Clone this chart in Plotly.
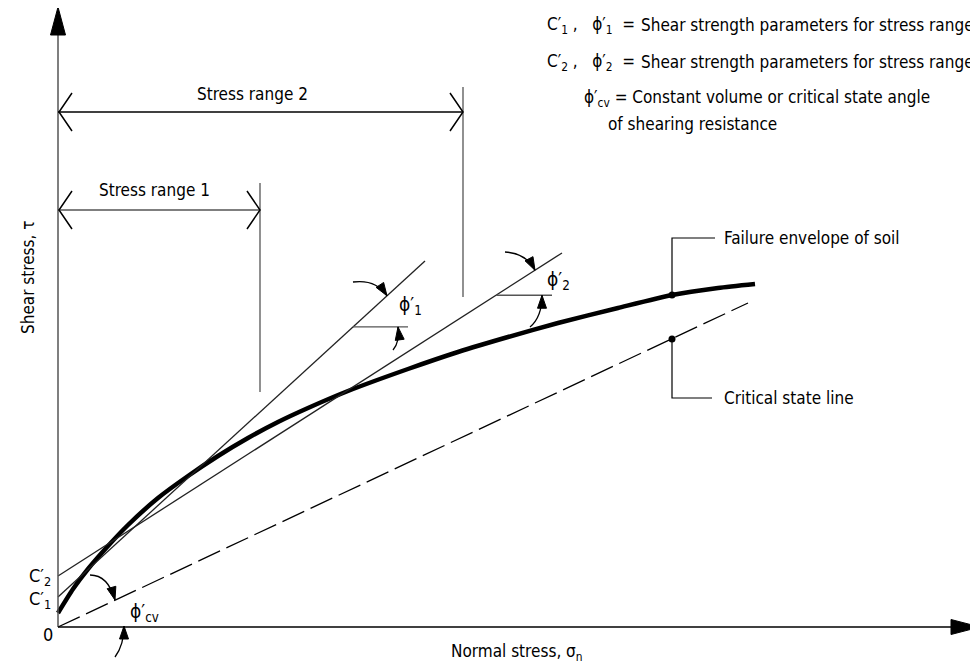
import plotly.graph_objects as go
import math

# ---- data (drawing units: sigma_n to the right, tau upward) ----
env_sigma = [0, 15, 30, 50, 70, 100, 130, 160, 190, 220, 250, 290, 350, 400, 450, 500, 560, 614, 660, 697]
env_tau = [14, 38, 58, 81, 102, 129, 151, 171, 189, 205, 219, 236, 258, 275, 290, 304, 319, 332, 339, 343]
csl_sigma = [0, 690]
csl_tau = [0, 324]
c1, tan_phi1, line1_end = 30, 0.9155, 367
c2, tan_phi2, line2_end = 51, 0.641, 504
range1_end = 202
range2_end = 405
failure_dot = (614, 332)
csl_dot = (614, 288)

FONT = "Liberation Sans Narrow, DejaVu Sans Condensed, Arial Narrow, sans-serif"
FS = 17
THIN = "#222"
GRAY = "#555"

fig = go.Figure()

# failure envelope
fig.add_trace(go.Scatter(x=env_sigma, y=env_tau, mode="lines", line=dict(color="black", width=4.5, shape="spline", smoothing=0.6), hoverinfo="skip"))
# critical state line
fig.add_trace(go.Scatter(x=csl_sigma, y=csl_tau, mode="lines", line=dict(color="black", width=1.3, dash="24px,7px"), hoverinfo="skip"))
# tangent lines
fig.add_trace(go.Scatter(x=[0, line1_end], y=[c1, c1 + tan_phi1 * line1_end], mode="lines", line=dict(color=THIN, width=1.3), hoverinfo="skip"))
fig.add_trace(go.Scatter(x=[0, line2_end], y=[c2, c2 + tan_phi2 * line2_end], mode="lines", line=dict(color=THIN, width=1.3), hoverinfo="skip"))
# dots
fig.add_trace(go.Scatter(x=[failure_dot[0], csl_dot[0]], y=[failure_dot[1], csl_dot[1]], mode="markers", marker=dict(color="black", size=7), hoverinfo="skip"))

shapes = []

def line(x0, y0, x1, y1, color=THIN, w=1.3):
    shapes.append(dict(type="line", xref="x", yref="y", x0=x0, y0=y0, x1=x1, y1=y1, line=dict(color=color, width=w)))

def path(d, color=THIN, w=1.3, fill=None):
    s = dict(type="path", xref="x", yref="y", path=d, line=dict(color=color, width=w))
    if fill:
        s["fillcolor"] = fill
    shapes.append(s)

def head(tip, frm, length=13, half=4.5):
    dx, dy = tip[0] - frm[0], tip[1] - frm[1]
    n = math.hypot(dx, dy)
    ux, uy = dx / n, dy / n
    bx, by = tip[0] - ux * length, tip[1] - uy * length
    px, py = -uy * half, ux * half
    d = f"M {tip[0]},{tip[1]} L {bx+px},{by+py} L {bx-px},{by-py} Z"
    path(d, color="black", w=1, fill="black")

def curved_arrow(start, ctrl, tip):
    path(f"M {start[0]},{start[1]} Q {ctrl[0]},{ctrl[1]} {tip[0]},{tip[1]}", color="black", w=1.3)
    head(tip, ctrl)

# axes
line(0, 0, 0, 595, color=GRAY, w=1.5)
head((0, 620), (0, 0), length=28, half=7.5)
line(0, 0, 895, 0, color="black", w=1.5)
head((922, 0), (0, 0), length=29, half=7.5)

# stress range 2
line(range2_end, 540, range2_end, 330, color=GRAY)
line(0, 515, range2_end, 515, color="black")
path("M 14,534 L 1,515 L 14,496", color="black", w=1.5)
path(f"M {range2_end-13},534 L {range2_end},515 L {range2_end-13},496", color="black", w=1.5)
# stress range 1
line(range1_end, 444, range1_end, 235, color=GRAY)
line(0, 417, range1_end, 417, color=GRAY)
path("M 14,436 L 1,417 L 14,398", color="black", w=1.5)
path(f"M {range1_end-13},436 L {range1_end},417 L {range1_end-13},398", color="black", w=1.5)

# angle reference horizontals
line(295, c1 + tan_phi1 * 295, 350, c1 + tan_phi1 * 295, color=GRAY)
line(438, c2 + tan_phi2 * 438, 494, c2 + tan_phi2 * 438, color=GRAY)

# angle arrows
curved_arrow((295, 345), (318, 348), (329, c1 + tan_phi1 * 329))
curved_arrow((335, 277), (342, 285), (340, c1 + tan_phi1 * 295))
curved_arrow((447, 375), (468, 374), (477, c2 + tan_phi2 * 477))
curved_arrow((472, 300), (484, 310), (484, c2 + tan_phi2 * 438))
curved_arrow((32, 52), (50, 52), (57, 27))
curved_arrow((57, -30), (66, -18), (66, 1))

# leaders
path(f"M {failure_dot[0]},{failure_dot[1]} L {failure_dot[0]},389 L 657,389", color="black", w=1.2)
path(f"M {csl_dot[0]},{csl_dot[1]} L {csl_dot[0]},229 L 654,229", color="black", w=1.2)

ann = []
def txt(x, y, t, xa="center", size=FS, angle=0):
    ann.append(dict(x=x, y=y, xref="x", yref="y", text=t, showarrow=False, xanchor=xa, yanchor="middle",
                    font=dict(family=FONT, size=size, color="black"), textangle=angle))

P = "\u2032"
F = "\u03d5"
S = "\u00a0"
txt(194, 533, "Stress range 2")
txt(96, 437, "Stress range 1")
txt(352, 322, f"{F}{P}<sub>1</sub>", size=19)
txt(500, 347, f"{F}{P}<sub>2</sub>", size=19)
txt(86, 15, f"{F}{P}<sub>cv</sub>", size=19)
txt(-10, -7, "0", size=18)
txt(-18, 27, f"C{P}<sub>1</sub>", size=18)
txt(-18, 50, f"C{P}<sub>2</sub>", size=18)
txt(-30, 349, "Shear stress, τ", angle=-90)
txt(459, -25, "Normal stress, σ<sub>n</sub>")
txt(664, 389, "Failure envelope of soil", xa="left")
txt(664, 229, "Critical state line", xa="left")
txt(579, 602, f"C{P}<sub>1</sub>{S},{S}{S}{S}{F}{P}<sub>1</sub>{S}{S}=", xa="right")
txt(581, 602, "Shear strength parameters for stress range", xa="left")
txt(579, 565, f"C{P}<sub>2</sub>{S},{S}{S}{S}{F}{P}<sub>2</sub>{S}{S}=", xa="right")
txt(581, 565, "Shear strength parameters for stress range", xa="left")
txt(524, 529, f"{F}{P}<sub>cv</sub> = Constant volume or critical state angle", xa="left")
txt(548, 503, "of shearing resistance", xa="left")

# page body has an 8px margin, so the drawing is offset to land at the reference pixels
fig.update_layout(
    width=978, height=667, margin=dict(l=0, r=0, t=0, b=0),
    paper_bgcolor="white", plot_bgcolor="white", showlegend=False,
    xaxis=dict(range=[-50, 928], visible=False, fixedrange=True),
    yaxis=dict(range=[-48, 619], visible=False, fixedrange=True),
    shapes=shapes, annotations=ann,
)
fig.write_html("out.html")
